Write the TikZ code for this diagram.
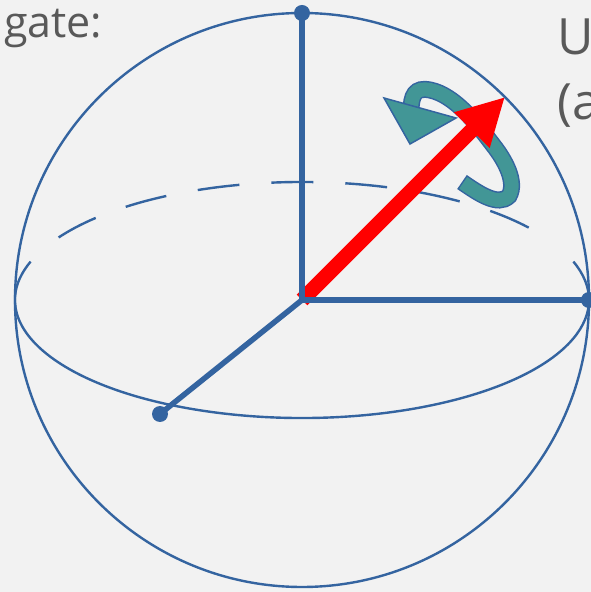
\documentclass[tikz,border=0pt]{standalone}
\usepackage{fontspec}
\setmainfont{Open Sans}
\usetikzlibrary{arrows.meta}
\definecolor{blochblue}{RGB}{52,100,160}
\definecolor{spinteal}{RGB}{66,150,150}
\definecolor{textgray}{RGB}{89,89,89}
\definecolor{slidebg}{RGB}{242,242,242}
\def\spinpath{(462,410) .. controls (478,399) and (498,385) .. (509,396)
  .. controls (517,410) and (505,432) .. (493,447)
  .. controls (478,467) and (455,497) .. (430,502)
  .. controls (415,505) and (411,497) .. (411,480)}

\begin{document}
\begin{tikzpicture}[x=1pt, y=1pt,
rim/.style={draw=blochblue, line width=2.4pt},
axis/.style={draw=blochblue, line width=5.5pt},
dot/.style={circle, fill=blochblue, inner sep=0pt, minimum size=16pt},
caption/.style={text=textgray, inner sep=0pt, anchor=base west},
state/.style={draw=red, line width=15pt, -{Triangle[length=47pt, width=47pt]}}]
    \fill[slidebg] (0,0) rectangle (591,592);
    \useasboundingbox (0,0) rectangle (591,592);
    \clip (0,0) rectangle (591,592);

    % sphere and equator
    \coordinate (O) at (302,292);
    \draw[rim] (O) circle[radius=287];
    \draw[rim] (O) ++(161:287 and 118) arc[start angle=161, end angle=379, x radius=287, y radius=118];
    \draw[rim, dash pattern=on 42pt off 32pt] (O) ++(148:287 and 118) arc[start angle=148, end angle=30, x radius=287, y radius=118];

    % rotation arrow
    \draw[blochblue, line width=17pt] \spinpath;
    \draw[spinteal, line width=14pt, shorten <=1.5pt] \spinpath;
    \draw[blochblue, line width=1.5pt, fill=spinteal] (384,494) -- (410,448) -- (456,474) -- cycle;

    % state vector
    \coordinate (psi) at (505,495);
    \draw[state] (O) -- (psi);

    % axes
    \node[dot] (zdot) at (302,579) {};
    \node[dot] (ydot) at (589,292) {};
    \node[dot] (xdot) at (160,178) {};
    \draw[axis] (O) -- (zdot.center);
    \draw[axis] (O) -- (ydot.center);
    \draw[axis] (O) -- (xdot.center);

    % texts
    \node[caption, font=\fontsize{43}{50}\selectfont] (gatetext) at (4,554) {gate:};
    \node[caption, font=\fontsize{50}{60}\selectfont] (utext) at (557,537) {U};
    \node[caption, font=\fontsize{50}{60}\selectfont] (atext) at (557,472) {(a};
\end{tikzpicture}
\end{document}
